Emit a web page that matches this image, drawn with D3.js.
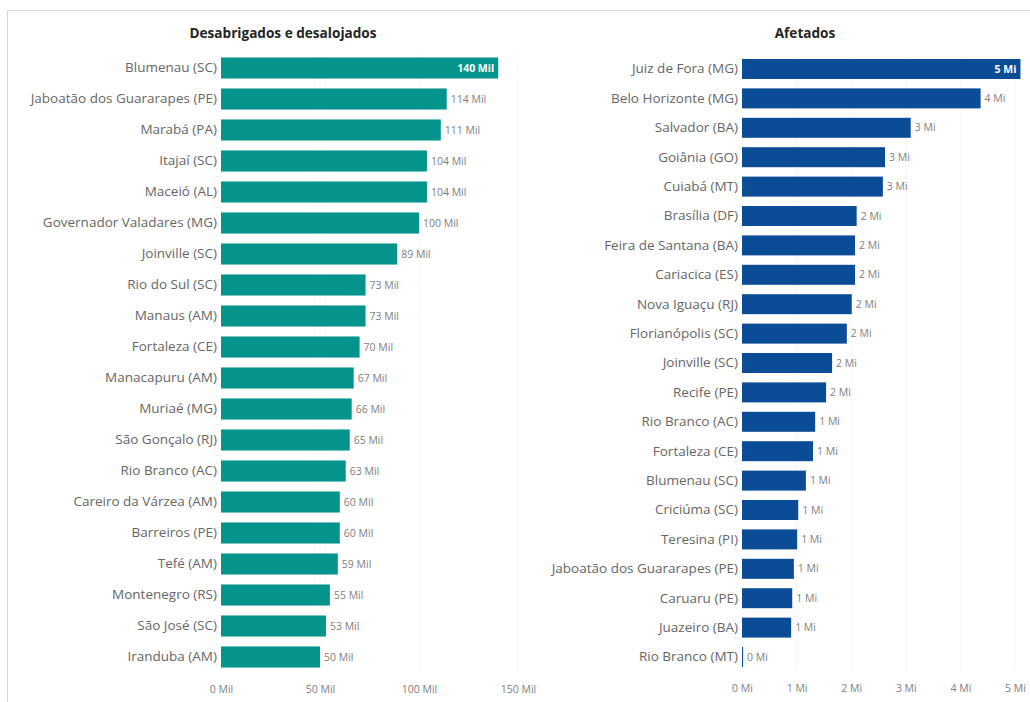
<!DOCTYPE html>
<html>
<head>
<meta charset="utf-8">
<script src="https://cdn.jsdelivr.net/npm/d3@7"></script>
<style>
  body { margin: 0; background: #fff; }
  svg { display: block; font-family: "Open Sans", "Noto Sans", sans-serif; }
</style>
</head>
<body>
<svg id="chart" width="1030" height="702"></svg>
<script>
// desabrigados e desalojados (milhares)
const leftCities = [
    "Blumenau (SC)", "Jaboatão dos Guararapes (PE)", "Marabá (PA)", "Itajaí (SC)", "Maceió (AL)",
    "Governador Valadares (MG)", "Joinville (SC)", "Rio do Sul (SC)", "Manaus (AM)", "Fortaleza (CE)",
    "Manacapuru (AM)", "Muriaé (MG)", "São Gonçalo (RJ)", "Rio Branco (AC)", "Careiro da Várzea (AM)",
    "Barreiros (PE)", "Tefé (AM)", "Montenegro (RS)", "São José (SC)", "Iranduba (AM)"
];
const leftValues = [140, 114, 111, 104, 104, 100, 89, 73, 73, 70, 67, 66, 65, 63, 60, 60, 59, 55, 53, 50];
const leftTicks = [0, 50, 100, 150];

// afetados (milhões)
const rightCities = [
    "Juiz de Fora (MG)", "Belo Horizonte (MG)", "Salvador (BA)", "Goiânia (GO)", "Cuiabá (MT)",
    "Brasília (DF)", "Feira de Santana (BA)", "Cariacica (ES)", "Nova Iguaçu (RJ)", "Florianópolis (SC)",
    "Joinville (SC)", "Recife (PE)", "Rio Branco (AC)", "Fortaleza (CE)", "Blumenau (SC)",
    "Criciúma (SC)", "Teresina (PI)", "Jaboatão dos Guararapes (PE)", "Caruaru (PE)", "Juazeiro (BA)",
    "Rio Branco (MT)"
];
const rightValues = [5.1, 4.37, 3.09, 2.62, 2.58, 2.1, 2.07, 2.07, 2.01, 1.92, 1.65, 1.54, 1.34, 1.3, 1.17,
    1.03, 1.01, 0.95, 0.92, 0.9, 0.02];
const rightTicks = [0, 1, 2, 3, 4, 5];

const svg = d3.select("#chart");

// moldura do painel
svg.append("path")
    .attr("d", "M7.5,702 V10.5 H1030")
    .attr("fill", "none")
    .attr("stroke", "#d6d6d6");

const barPanel = (parent, parameters) => {
    const {
        title, titleX, cities, values, ticks, unit,
        xRange, yRange, colour
    } = parameters;

    const rows = cities.map((c, i) => ({ city: c, value: values[i] }));

    const x = d3.scaleLinear()
        .domain([ticks[0], ticks[ticks.length - 1]])
        .range(xRange);

    const y = d3.scaleBand()
        .domain(cities)
        .range(yRange)
        .paddingInner(0.32)
        .paddingOuter(0.16);

    const g = parent.append("g");

    g.append("text")
        .attr("x", titleX)
        .attr("y", 38)
        .attr("text-anchor", "middle")
        .attr("font-size", 13.6)
        .attr("font-weight", "bold")
        .attr("fill", "#252423")
        .text(title);

    // grade vertical
    g.selectAll(".grid")
        .data(ticks.slice(1))
        .join("line")
            .attr("class", "grid")
            .attr("x1", d => x(d))
            .attr("x2", d => x(d))
            .attr("y1", yRange[0])
            .attr("y2", yRange[1])
            .attr("stroke", "#f7f7f7");

    g.selectAll(".bar")
        .data(rows)
        .join("rect")
            .attr("class", "bar")
            .attr("x", x(0))
            .attr("y", d => y(d.city))
            .attr("width", d => Math.max(1, x(d.value) - x(0)))
            .attr("height", y.bandwidth())
            .attr("fill", colour);

    const yAxis = g.append("g")
        .attr("transform", `translate(${x(0) - 4},0)`)
        .call(d3.axisLeft(y).tickSize(0).tickPadding(0));
    yAxis.select(".domain").remove();
    yAxis.selectAll("text")
        .attr("font-size", 13.5)
        .attr("font-family", "'Open Sans', sans-serif")
        .attr("fill", "#666666");

    const inside = d => x(d.value) + 30 > xRange[1];

    g.selectAll(".value")
        .data(rows)
        .join("text")
            .attr("class", "value")
            .attr("x", d => inside(d) ? x(d.value) - 4 : x(d.value) + 4)
            .attr("y", d => y(d.city) + y.bandwidth() / 2)
            .attr("dy", "0.35em")
            .attr("text-anchor", d => inside(d) ? "end" : "start")
            .attr("font-size", 10.5)
            .attr("font-weight", d => inside(d) ? "bold" : "normal")
            .attr("fill", d => inside(d) ? "#ffffff" : "#808080")
            .text(d => Math.round(d.value) + " " + unit);

    const xAxis = g.append("g")
        .attr("transform", `translate(0,${yRange[1] + 10})`)
        .call(d3.axisBottom(x).tickValues(ticks).tickSize(0).tickPadding(3)
            .tickFormat(d => d + " " + unit));
    xAxis.select(".domain").remove();
    xAxis.selectAll("text")
        .attr("font-size", 10.5)
        .attr("font-family", "'Open Sans', sans-serif")
        .attr("fill", "#808080");
};

barPanel(svg, {
    title: "Desabrigados e desalojados",
    titleX: 283,
    cities: leftCities,
    values: leftValues,
    ticks: leftTicks,
    unit: "Mil",
    xRange: [221, 518],
    yRange: [52.5, 672.5],
    colour: "#05948b"
});

barPanel(svg, {
    title: "Afetados",
    titleX: 805,
    cities: rightCities,
    values: rightValues,
    ticks: rightTicks,
    unit: "Mi",
    xRange: [742, 1015],
    yRange: [54.3, 671.7],
    colour: "#0b4c97"
});
</script>
</body>
</html>
